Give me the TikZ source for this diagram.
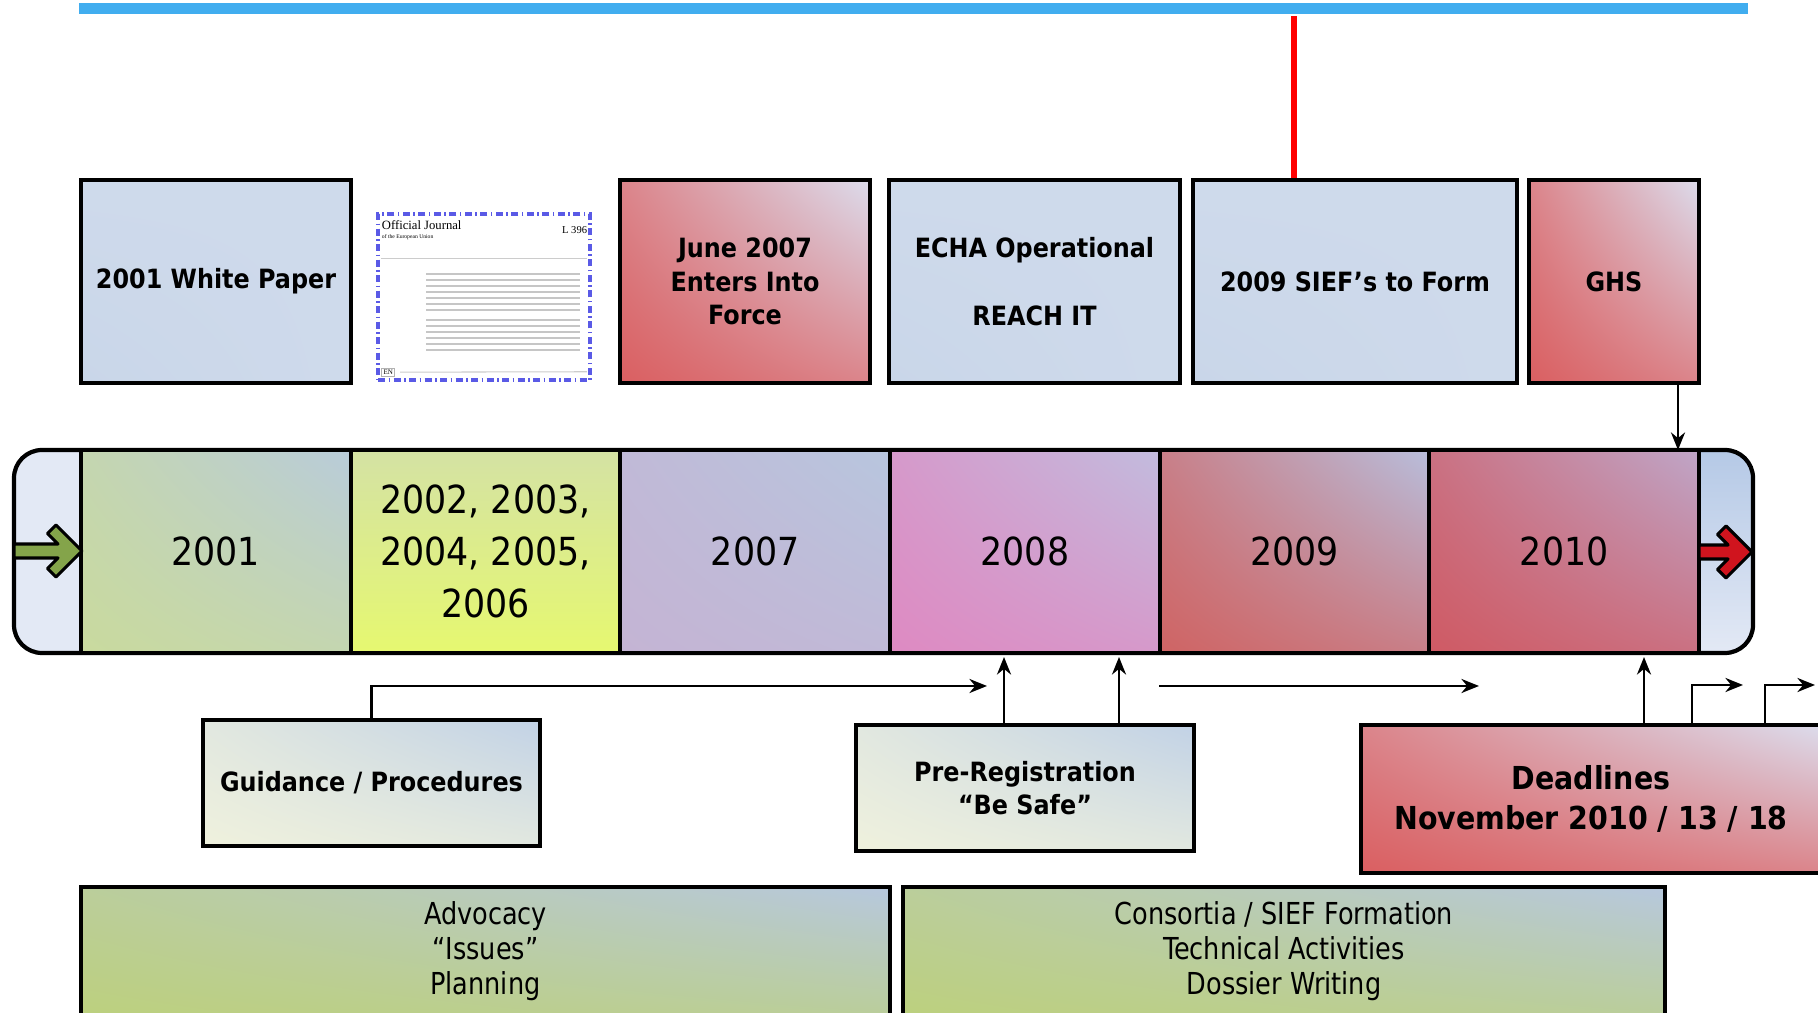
\documentclass[tikz,border=0pt]{standalone}
\usepackage{fontspec}
\setmainfont{DejaVu Sans Condensed}
\newfontfamily\thumbfont{Liberation Serif}
\newfontfamily\narrowfont[FakeStretch=0.94]{DejaVu Sans Condensed}
\usepackage{tikz}
\usetikzlibrary{arrows.meta}
\usetikzlibrary{calc,shadings}
\tikzset{>={Stealth[length=5pt,width=4pt]}}
\definecolor{barblue}{HTML}{41ADEF}
\definecolor{boxblue}{HTML}{C9D6E9}
\definecolor{boxred}{HTML}{DA5F61}
\definecolor{boxlav}{HTML}{DCDCEC}
\definecolor{capblue}{HTML}{E3E9F5}
\definecolor{capdark}{HTML}{B5C9E6}
\definecolor{jblue}{HTML}{5A5AE6}
\definecolor{arrgreen}{HTML}{84A44A}
\definecolor{arrred}{HTML}{D0141E}
\definecolor{cream}{HTML}{EFF1DD}
\definecolor{paleblue}{HTML}{C2D2E6}
\definecolor{phasegreen}{HTML}{BCD07E}
\definecolor{phaseblue}{HTML}{B7C8DE}
\definecolor{ya}{HTML}{C9DA9E}
\definecolor{yaa}{HTML}{B9CCDA}
\definecolor{yb}{HTML}{E6F870}
\definecolor{ybb}{HTML}{D4E2A4}
\definecolor{yc}{HTML}{C4B4D4}
\definecolor{ycc}{HTML}{B8C6DE}
\definecolor{yd}{HTML}{DE8AC2}
\definecolor{ydd}{HTML}{C2BCDE}
\definecolor{ye}{HTML}{CF6464}
\definecolor{yee}{HTML}{B8BEDC}
\definecolor{yf}{HTML}{CF5A64}
\definecolor{yff}{HTML}{BFA6C8}
\tikzset{
  grad/.style 2 args={shade,lower left=#1,upper right=#2,
    upper left=#1!70!#2,lower right=#1!70!#2},
  topbox/.style={draw,line width=1.2pt,minimum height=2.03cm,inner sep=2pt,
    align=center,font=\bfseries\fontsize{7.55}{9.6}\selectfont},
  yearcell/.style={draw,line width=1.2pt,minimum width=2.697cm,minimum height=2.03cm,
    align=center,font=\fontsize{11}{14.8}\selectfont},
  lowbox/.style={draw,line width=1.2pt,align=center,
    font=\bfseries\fontsize{7.55}{9.6}\selectfont},
  phasebox/.style={draw,line width=1.2pt,minimum height=1.28cm,align=center,
    font=\narrowfont\fontsize{8.6}{10}\selectfont},
  link/.style={->,line width=0.7pt},
}

\begin{document}
\begin{tikzpicture}
        \useasboundingbox (0,0) rectangle (18.18,10.13);

        % block arrow in the end caps, tip at #1, shaft length #2
        \def\caparrow#1#2#3{\begin{scope}[shift={(#1)}]
            \filldraw[fill=#3,line width=0.9pt,line join=round]
              (0,0) -- (-0.26,0.26) -- (-0.345,0.175) -- (-0.24,0.07) -- (-#2,0.07)
              -- (-#2,-0.07) -- (-0.24,-0.07) -- (-0.345,-0.175) -- (-0.26,-0.26) -- cycle;
          \end{scope}}

        % COORDINATES
        \coordinate (redtop) at (12.94,9.97);
        \coordinate (ghsx) at (16.78,5.63);
        \coordinate (guidend) at (9.87,3.27);
        \coordinate (pr1) at (10.04,3.56);
        \coordinate (pr2) at (11.19,3.56);
        \coordinate (fa1) at (11.59,3.27);
        \coordinate (fa2) at (14.79,3.27);
        \coordinate (dl1) at (16.44,3.56);
        \coordinate (dl2s) at (16.92,0);
        \coordinate (dl2) at (17.43,3.28);
        \coordinate (dl3s) at (17.65,0);
        \coordinate (dl3) at (18.15,3.28);

        % BAR
        \fill[barblue] (0.79,9.99) rectangle (17.48,10.095);

        % TOP BOXES
        \node[topbox,grad={boxblue}{boxblue!90!white},minimum width=2.70cm] (wp) at (2.16,7.315) {2001 White Paper};
        \node[topbox,grad={boxred}{boxlav},minimum width=2.50cm] (force) at (7.45,7.315) {June 2007\\Enters Into\\Force};
        \node[topbox,grad={boxblue}{boxblue!90!white},minimum width=2.91cm] (echa) at (10.345,7.315) {ECHA Operational\\[9.6pt]REACH IT};
        \node[topbox,grad={boxblue}{boxblue!90!white},minimum width=3.24cm] (sief) at (13.55,7.315) {2009 SIEF’s to Form};
        \node[topbox,grad={boxred}{boxlav},minimum width=1.70cm] (ghs) at (16.14,7.315) {GHS};

        % JOURNAL
        \node[draw=jblue,line width=1pt,dash pattern=on 0.07cm off 0.035cm on 0.015cm off 0.035cm,
          fill=white,minimum width=2.12cm,minimum height=1.66cm] (journal) at (4.84,7.16) {};
        \node[anchor=north west,inner sep=0,font=\thumbfont\fontsize{3.6}{3.6}\selectfont] (ojtitle)
          at ($(journal.north west)+(0.05,-0.08)$) {Official Journal};
        \node[anchor=north west,inner sep=0,font=\thumbfont\fontsize{1.6}{1.6}\selectfont] (ojsub)
          at ($(ojtitle.south west)+(0,-0.03)$) {of the European Union};
        \node[anchor=north east,inner sep=0,font=\thumbfont\fontsize{3}{3}\selectfont] (ojno)
          at ($(journal.north east)+(-0.04,-0.14)$) {L 396};
        \node[anchor=south west,draw=gray!60,line width=0.3pt,inner sep=0.5pt,
          font=\thumbfont\fontsize{2}{2}\selectfont] (ojen) at ($(journal.south west)+(0.05,0.05)$) {EN};
        \draw[gray!40,line width=0.3pt] ($(journal.north west)+(0.05,-0.46)$) -- ($(journal.north east)+(-0.05,-0.46)$);
        \draw[gray!40,line width=0.3pt] ($(ojen.east)+(0.05,0)$) -- ($(journal.south east)+(-0.05,0.1)$);
        \foreach \y in {0.62,0.68,0.74,0.80,0.86,0.92,0.98,1.08,1.14,1.20,1.26,1.32,1.38}
          \draw[gray!45,line width=0.5pt] ($(journal.north west)+(0.5,-\y)$) -- ($(journal.north east)+(-0.12,-\y)$);

        % TIMELINE
        \begin{scope}
          \clip[rounded corners=0.28cm] (0.14,3.60) rectangle (17.53,5.63);
          \fill[capblue] (0.14,3.60) rectangle (0.81,5.63);
          \shade[top color=capdark,bottom color=capblue] (16.99,3.60) rectangle (17.53,5.63);
        \end{scope}
        \draw[line width=1.2pt,rounded corners=0.28cm] (0.14,3.60) rectangle (17.53,5.63);
        \node[yearcell,grad={ya}{yaa}] (y2001) at (2.159,4.615) {2001};
        \node[yearcell,shade,top color=ybb,bottom color=yb] (y2002) at (4.855,4.615) {2002, 2003,\\2004, 2005,\\2006};
        \node[yearcell,grad={yc}{ycc}] (y2007) at (7.552,4.615) {2007};
        \node[yearcell,grad={yd}{ydd}] (y2008) at (10.249,4.615) {2008};
        \node[yearcell,grad={ye}{yee}] (y2009) at (12.946,4.615) {2009};
        \node[yearcell,grad={yf}{yff}] (y2010) at (15.642,4.615) {2010};
        \caparrow{0.82,4.62}{0.68}{arrgreen}
        \caparrow{17.52,4.61}{0.53}{arrred}

        % LOWER BOXES
        \node[lowbox,grad={cream}{paleblue},minimum width=3.37cm,minimum height=1.26cm] (guid) at (3.715,2.30) {Guidance / Procedures};
        \node[lowbox,grad={cream}{paleblue},minimum width=3.38cm,minimum height=1.26cm] (prereg) at (10.25,2.25) {Pre-Registration\\“Be Safe”};
        \node[lowbox,grad={boxred}{boxlav},minimum width=4.6cm,minimum height=1.48cm,
          font=\bfseries\fontsize{9}{11.4}\selectfont] (dead) at (15.91,2.14) {Deadlines\\November 2010 / 13 / 18};
        \node[phasebox,grad={phasegreen}{phaseblue},minimum width=8.09cm] (adv) at (4.855,0.62) {Advocacy\\“Issues”\\Planning};
        \node[phasebox,grad={phasegreen}{phaseblue},minimum width=7.62cm] (cons) at (12.84,0.62) {Consortia / SIEF Formation\\Technical Activities\\Dossier Writing};

        % LINKS
        \draw[red,line width=1.7pt] (redtop |- sief.north) -- (redtop);
        \draw[link] (ghsx |- ghs.south) -- (ghsx);
        \draw[link] (guid.north) |- (guidend);
        \draw[link] (pr1 |- prereg.north) -- (pr1);
        \draw[link] (pr2 |- prereg.north) -- (pr2);
        \draw[link] (fa1) -- (fa2);
        \draw[link] (dl1 |- dead.north) -- (dl1);
        \draw[link] (dl2s |- dead.north) |- (dl2);
        \draw[link] (dl3s |- dead.north) |- (dl3);

    \end{tikzpicture}
\end{document}
